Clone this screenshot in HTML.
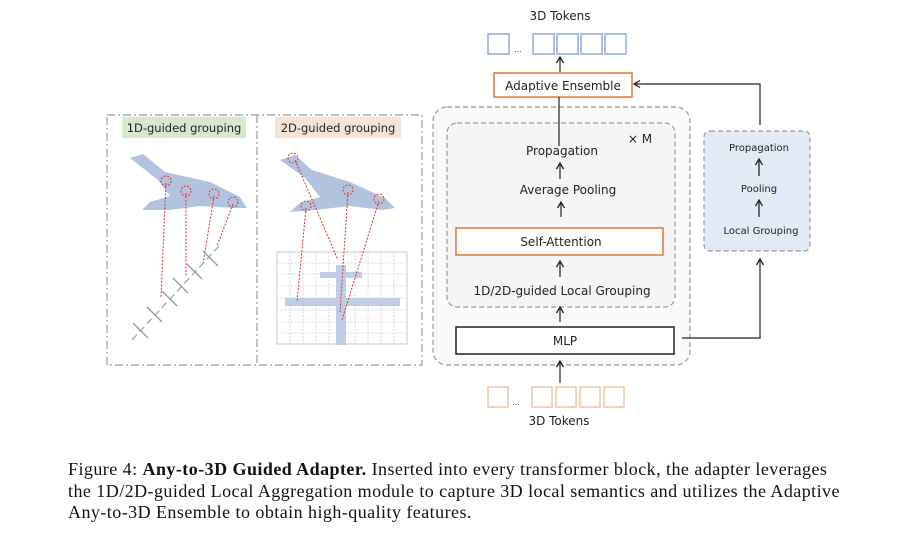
<!DOCTYPE html>
<html><head><meta charset="utf-8"><style>
body{margin:0;background:#fff;}
.wrap{position:relative;width:916px;height:540px;overflow:hidden;}
.cap{position:absolute;left:68px;font-family:"Liberation Serif",serif;font-size:18px;color:#111;white-space:nowrap;letter-spacing:0.45px;}
svg text{font-family:"DejaVu Sans","Liberation Sans",sans-serif;}
</style></head><body><div class="wrap">
<svg width="916" height="540" viewBox="0 0 916 540" xmlns="http://www.w3.org/2000/svg">
<defs>
<marker id="ah" markerWidth="8" markerHeight="10" refX="7" refY="4" orient="auto" markerUnits="userSpaceOnUse" viewBox="0 0 8 8"><path d="M1,0.5 L7,4 L1,7.5" fill="none" stroke="#222" stroke-width="1.3"/></marker>
</defs>
<rect x="107" y="115" width="315" height="250" fill="none" stroke="#999" stroke-width="1.2" stroke-dasharray="8 3 2 3"/>
<line x1="257" y1="115" x2="257" y2="365" stroke="#999" stroke-width="1.2" stroke-dasharray="8 3 2 3"/>
<rect x="122" y="117" width="124" height="21" fill="#d8e8cc"/>
<text x="184" y="132" font-size="11.5" text-anchor="middle" fill="#222">1D-guided grouping</text>
<rect x="275" y="117" width="126" height="21" fill="#f7e2d6"/>
<text x="338" y="132" font-size="11.5" text-anchor="middle" fill="#222">2D-guided grouping</text>
<g fill="#a9bcdc" opacity="0.9">
<path d="M130,158 L143,154 L165,172 L210,182 L240,197 L247,208 L236,208 L200,206 L170,210 L142,210 L150,202 L170,196 L158,180 Z"/>
</g>
<g fill="none" stroke="#e03030" stroke-width="1" stroke-dasharray="2 1.5">
<circle cx="166" cy="181" r="5"/><circle cx="186" cy="191" r="5"/><circle cx="214" cy="194" r="5"/><circle cx="233" cy="202" r="5"/>
<line x1="166" y1="183" x2="161" y2="297"/><line x1="186" y1="193" x2="186" y2="276"/><line x1="214" y1="196" x2="203" y2="264"/><line x1="233" y1="204" x2="217" y2="246"/>
</g>
<line x1="132" y1="340" x2="220" y2="245" stroke="#8aa8d8" stroke-width="1.3" stroke-dasharray="7 4"/>
<g stroke="#999" stroke-width="1.3">
<line x1="133" y1="323" x2="148" y2="338"/><line x1="147" y1="307" x2="162" y2="322"/><line x1="162" y1="291" x2="177" y2="306"/><line x1="173" y1="278" x2="188" y2="293"/><line x1="187" y1="264" x2="202" y2="279"/><line x1="203" y1="251" x2="218" y2="266"/>
</g>
<g fill="#a9bcdc" opacity="0.9">
<path d="M280,160 L295,155 L312,170 L350,182 L385,198 L395,208 L382,210 L350,206 L315,210 L290,212 L300,203 L320,197 L305,178 Z"/>
</g>
<g stroke="#cfcfcf" stroke-width="0.8" stroke-dasharray="2 1.5">
<rect x="277" y="252" width="130" height="92" fill="none" stroke="#bbb" stroke-dasharray="none"/>
<line x1="277" y1="263" x2="407" y2="263"/><line x1="277" y1="274" x2="407" y2="274"/><line x1="277" y1="286" x2="407" y2="286"/><line x1="277" y1="298" x2="407" y2="298"/><line x1="277" y1="310" x2="407" y2="310"/><line x1="277" y1="322" x2="407" y2="322"/><line x1="277" y1="333" x2="407" y2="333"/>
<line x1="290" y1="252" x2="290" y2="344"/><line x1="303" y1="252" x2="303" y2="344"/><line x1="316" y1="252" x2="316" y2="344"/><line x1="329" y1="252" x2="329" y2="344"/><line x1="342" y1="252" x2="342" y2="344"/><line x1="355" y1="252" x2="355" y2="344"/><line x1="368" y1="252" x2="368" y2="344"/><line x1="381" y1="252" x2="381" y2="344"/><line x1="394" y1="252" x2="394" y2="344"/>
</g>
<g fill="#b5c6e2" opacity="0.85">
<rect x="336" y="265" width="10" height="80"/><rect x="285" y="298" width="115" height="8"/><rect x="320" y="272" width="42" height="6"/>
</g>
<g fill="none" stroke="#e03030" stroke-width="1" stroke-dasharray="2 1.5">
<circle cx="293" cy="158" r="5"/><circle cx="348" cy="190" r="5"/><circle cx="379" cy="199" r="5"/><circle cx="306" cy="206" r="5"/>
<line x1="295" y1="160" x2="338" y2="260"/><line x1="348" y1="192" x2="340" y2="312"/><line x1="379" y1="201" x2="342" y2="320"/><line x1="306" y1="208" x2="297" y2="302"/>
</g>
<text x="560" y="20" font-size="12" text-anchor="middle" fill="#222">3D Tokens</text>
<g fill="none" stroke="#8eaae0" stroke-width="1.5">
<rect x="488" y="34" width="21" height="20"/><rect x="533" y="34" width="21" height="20"/><rect x="557" y="34" width="21" height="20"/><rect x="581" y="34" width="21" height="20"/><rect x="605" y="34" width="21" height="20"/>
</g>
<text x="518" y="52" font-size="8" text-anchor="middle" fill="#444">...</text>
<line x1="560" y1="72" x2="560" y2="57" stroke="#222" stroke-width="1.2" marker-end="url(#ah)"/>
<rect x="494" y="73" width="138" height="24" fill="#fff" stroke="#d9773a" stroke-width="1.5"/>
<text x="563" y="90" font-size="12" text-anchor="middle" fill="#222">Adaptive  Ensemble</text>
<rect x="433" y="107" width="257" height="258" rx="14" fill="#fafafa" stroke="#999" stroke-width="1.2" stroke-dasharray="5 3"/>
<rect x="447" y="123" width="228" height="184" rx="10" fill="#f5f5f5" stroke="#999" stroke-width="1.2" stroke-dasharray="5 3"/>
<line x1="559" y1="97" x2="559" y2="146" stroke="#222" stroke-width="1.2"/>
<text x="640" y="143" font-size="12" text-anchor="middle" fill="#222">× M</text>
<text x="562" y="155" font-size="12" text-anchor="middle" fill="#222">Propagation</text>
<line x1="560" y1="179" x2="560" y2="163" stroke="#222" stroke-width="1.2" marker-end="url(#ah)"/>
<text x="568" y="194" font-size="12" text-anchor="middle" fill="#222">Average Pooling</text>
<line x1="561" y1="217" x2="561" y2="202" stroke="#222" stroke-width="1.2" marker-end="url(#ah)"/>
<rect x="456" y="228" width="207" height="27" fill="#fff" stroke="#d9773a" stroke-width="1.5"/>
<text x="561" y="246" font-size="12" text-anchor="middle" fill="#222">Self-Attention</text>
<line x1="560" y1="277" x2="560" y2="261" stroke="#222" stroke-width="1.2" marker-end="url(#ah)"/>
<text x="562" y="295" font-size="12" text-anchor="middle" fill="#222">1D/2D-guided Local Grouping</text>
<line x1="560" y1="322" x2="560" y2="307" stroke="#222" stroke-width="1.2" marker-end="url(#ah)"/>
<rect x="456" y="327" width="218" height="27" fill="#fff" stroke="#222" stroke-width="1.5"/>
<text x="565" y="345" font-size="12" text-anchor="middle" fill="#222">MLP</text>
<line x1="560" y1="383" x2="560" y2="361" stroke="#222" stroke-width="1.2" marker-end="url(#ah)"/>
<g fill="none" stroke="#f2c4a8" stroke-width="1.5">
<rect x="488" y="387" width="20" height="20"/><rect x="532" y="387" width="20" height="20"/><rect x="556" y="387" width="20" height="20"/><rect x="580" y="387" width="20" height="20"/><rect x="604" y="387" width="20" height="20"/>
</g>
<text x="516" y="405" font-size="8" text-anchor="middle" fill="#444">...</text>
<text x="559" y="425" font-size="12" text-anchor="middle" fill="#222">3D Tokens</text>
<rect x="704" y="131" width="106" height="120" rx="6" fill="#e2eaf5" stroke="#999" stroke-width="1.2" stroke-dasharray="5 3"/>
<text x="759" y="151" font-size="10" text-anchor="middle" fill="#222">Propagation</text>
<line x1="759" y1="176" x2="759" y2="159" stroke="#222" stroke-width="1.3" marker-end="url(#ah)"/>
<text x="759" y="192" font-size="10" text-anchor="middle" fill="#222">Pooling</text>
<line x1="759" y1="217" x2="759" y2="200" stroke="#222" stroke-width="1.3" marker-end="url(#ah)"/>
<text x="761" y="234" font-size="10" text-anchor="middle" fill="#222">Local Grouping</text>
<polyline points="682,338 760,338 760,259" fill="none" stroke="#222" stroke-width="1.2" marker-end="url(#ah)"/>
<polyline points="760,125 760,84 634,84" fill="none" stroke="#222" stroke-width="1.2" marker-end="url(#ah)"/>
</svg>
<div class="cap" style="top:459px">Figure 4: <b>Any-to-3D Guided Adapter.</b> Inserted into every transformer block, the adapter leverages</div>
<div class="cap" style="top:481px">the 1D/2D-guided Local Aggregation module to capture 3D local semantics and utilizes the Adaptive</div>
<div class="cap" style="top:502px">Any-to-3D Ensemble to obtain high-quality features.</div>
</div></body></html>
